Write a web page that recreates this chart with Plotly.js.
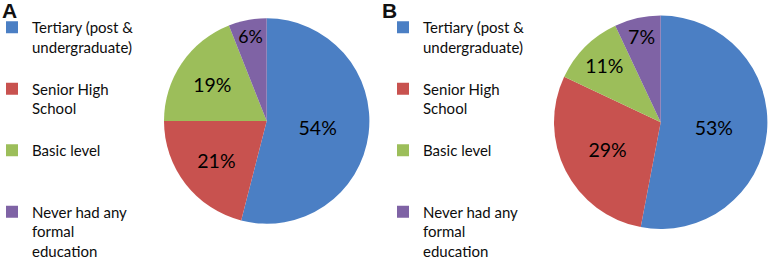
<!DOCTYPE html>
<html>
<head>
<meta charset="utf-8">
<script src="https://cdn.plot.ly/plotly-3.0.1.min.js"></script>
<style>html,body{margin:0;padding:0;background:#fff;}#chart{width:768px;height:260px;}</style>
</head>
<body>
<div id="chart"></div>
<script>
const categories = [
  "Tertiary (post &<br>undergraduate)<br>&nbsp;",
  "Senior High<br>School<br>&nbsp;",
  "Basic level<br>&nbsp;<br>&nbsp;",
  "Never had any<br>formal<br>education"
];
const valuesA = [54, 21, 19, 6];
const valuesB = [53, 29, 11, 7];
const colors = ["#4B7FC4", "#C8524F", "#9CBE5A", "#7F63A5"];
const panelLabels = ["A", "B"];

const W = 768, H = 260;
function dom(cx, cy, r) {
  return {x: [(cx - r) / W, (cx + r) / W], y: [(H - cy - r) / H, (H - cy + r) / H]};
}
const common = {
  type: "pie",
  labels: categories,
  sort: false,
  direction: "clockwise",
  rotation: 0,
  textinfo: "percent",
  textposition: "inside",
  insidetextorientation: "horizontal",
  textfont: {family: "Lato, 'Open Sans', sans-serif", size: 19.5, color: "#000"},
  marker: {colors: colors, line: {width: 0}},
  hoverinfo: "label+percent"
};
const traceA = Object.assign({}, common, {values: valuesA, domain: dom(266.7, 121, 102.7), legend: "legend", legendgroup: "A"});
const traceB = Object.assign({}, common, {values: valuesB, domain: dom(660.7, 122.3, 106.7), legend: "legend2", legendgroup: "B"});

const legFont = {family: "Lato, 'Open Sans', sans-serif", size: 15, color: "#0d0d0d"};
const legY = 1 - 11 / H;
const layout = {
  width: W, height: H,
  margin: {l: 0, r: 0, t: 0, b: 0, autoexpand: false},
  paper_bgcolor: "#fff",
  showlegend: true,
  legend: {x: -8 / W, y: legY, xanchor: "left", yanchor: "top", font: legFont, valign: "top", bgcolor: "rgba(0,0,0,0)", tracegroupgap: 0},
  legend2: {x: 383 / W, y: legY, xanchor: "left", yanchor: "top", font: legFont, valign: "top", bgcolor: "rgba(0,0,0,0)", tracegroupgap: 0},
  annotations: [
    {text: "<b>" + panelLabels[0] + "</b>", x: 0, y: 1, xref: "paper", yref: "paper", xanchor: "left", yanchor: "top", yshift: 3, showarrow: false, font: {family: "Liberation Sans, Arial, sans-serif", size: 21, color: "#111"}},
    {text: "<b>" + panelLabels[1] + "</b>", x: 380 / W, y: 1, xref: "paper", yref: "paper", xanchor: "left", yanchor: "top", yshift: 3, showarrow: false, font: {family: "Liberation Sans, Arial, sans-serif", size: 21, color: "#111"}}
  ]
};
Plotly.newPlot("chart", [traceA, traceB], layout, {staticPlot: true, displayModeBar: false});
</script>
</body>
</html>
